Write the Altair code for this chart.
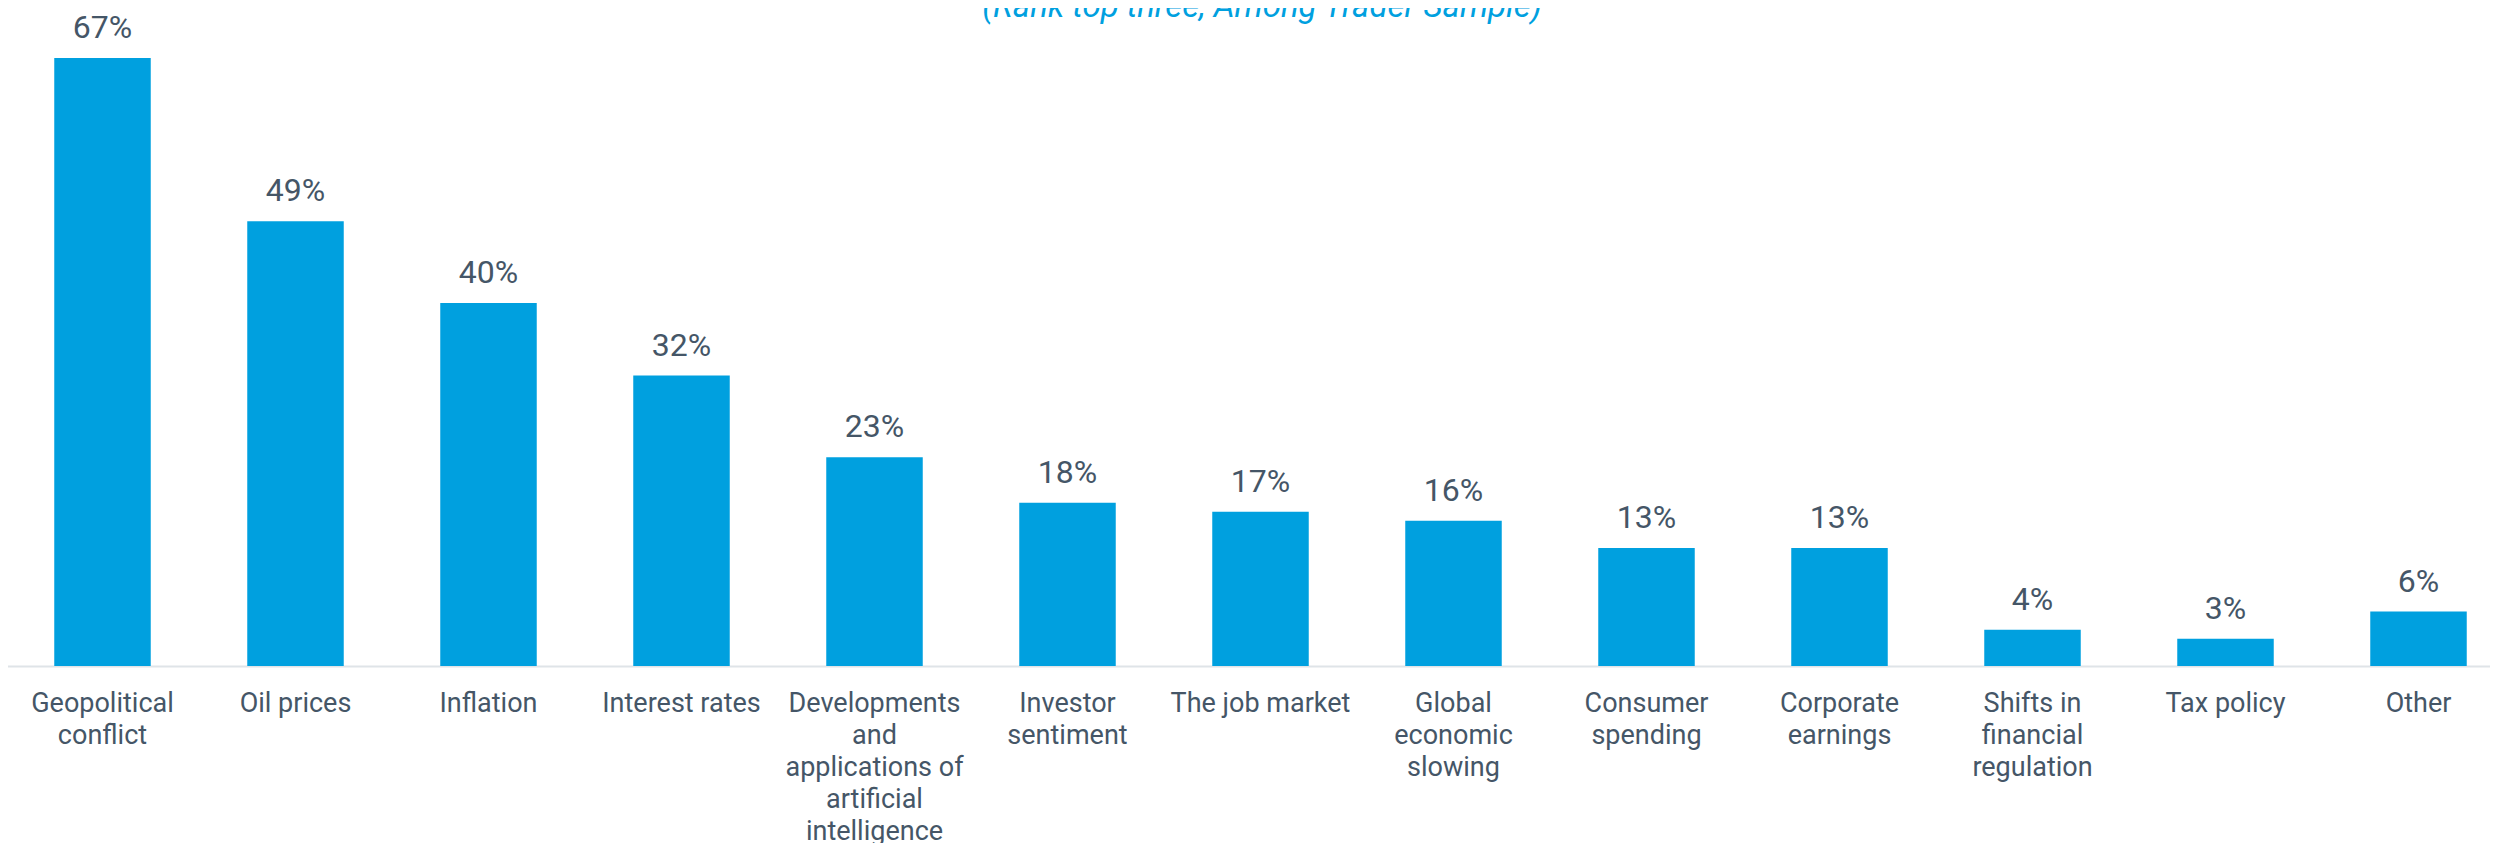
import json
import altair as alt
import pandas as pd

# ---- data ----
categories = [
    "Geopolitical conflict",
    "Oil prices",
    "Inflation",
    "Interest rates",
    "Developments and applications of artificial intelligence",
    "Investor sentiment",
    "The job market",
    "Global economic slowing",
    "Consumer spending",
    "Corporate earnings",
    "Shifts in financial regulation",
    "Tax policy",
    "Other",
]
values = [67, 49, 40, 32, 23, 18, 17, 16, 13, 13, 4, 3, 6]
tick_label_lines = [
    ["Geopolitical", "conflict"],
    ["Oil prices"],
    ["Inflation"],
    ["Interest rates"],
    ["Developments", "and", "applications of", "artificial", "intelligence"],
    ["Investor", "sentiment"],
    ["The job market"],
    ["Global", "economic", "slowing"],
    ["Consumer", "spending"],
    ["Corporate", "earnings"],
    ["Shifts in", "financial", "regulation"],
    ["Tax policy"],
    ["Other"],
]
subtitle = ["(Rank top three, Among Trader Sample)"]

df = pd.DataFrame({"category": categories, "value": values})
df_title = pd.DataFrame({"t": subtitle})

BLUE = "#00a0df"
INK = "#455667"
FONT = "Roboto"
WEIGHT = 400

label_map = json.dumps(dict(zip(categories, tick_label_lines)))

x_enc = alt.X(
    "category:N",
    sort=categories,
    scale=alt.Scale(range=[-2, 2507], paddingInner=0.5, paddingOuter=0.25),
    axis=alt.Axis(
        title=None,
        labelExpr=label_map + "[datum.label]",
        labelAngle=0,
        labelAlign="center",
        labelBaseline="top",
        labelFont=FONT,
        labelFontSize=27,
        labelFontWeight=WEIGHT,
        labelColor=INK,
        labelLineHeight=32,
        labelPadding=24,
        labelLimit=0,
        labelOverlap=False,
        labelFlush=False,
        ticks=False,
        tickSize=0,
        grid=False,
        domain=True,
        domainColor="#dfe4e8",
        domainWidth=2,
    ),
)
y_scale = alt.Scale(domain=[0, 67], nice=False, zero=True)

base = alt.Chart(df).encode(x=x_enc)

bars = base.mark_bar(color=BLUE).encode(
    y=alt.Y("value:Q", scale=y_scale, axis=None)
)

labels = base.transform_calculate(
    pct="datum.value + '%'"
).mark_text(
    font=FONT, fontSize=32, fontWeight=WEIGHT, color=INK,
    baseline="alphabetic", align="center", dy=-20
).encode(
    y=alt.Y("value:Q", scale=y_scale, axis=None),
    text="pct:N",
)

title_mark = alt.Chart(df_title).mark_text(
    font=FONT, fontSize=33, fontStyle="italic", fontWeight=WEIGHT, color=BLUE,
    baseline="alphabetic", align="center"
).encode(
    text="t:N",
    x=alt.value(1254),
    y=alt.value(-41),
)

chart = (
    alt.layer(bars, labels, title_mark)
    .properties(
        width=2482,
        height=608,
        autosize=alt.AutoSizeParams(type="none"),
        padding={"left": 0, "right": 0, "top": 50, "bottom": 177},
    )
    .configure_view(stroke=None)
)

chart.save("out.html", embed_options={"renderer": "svg", "actions": False})
